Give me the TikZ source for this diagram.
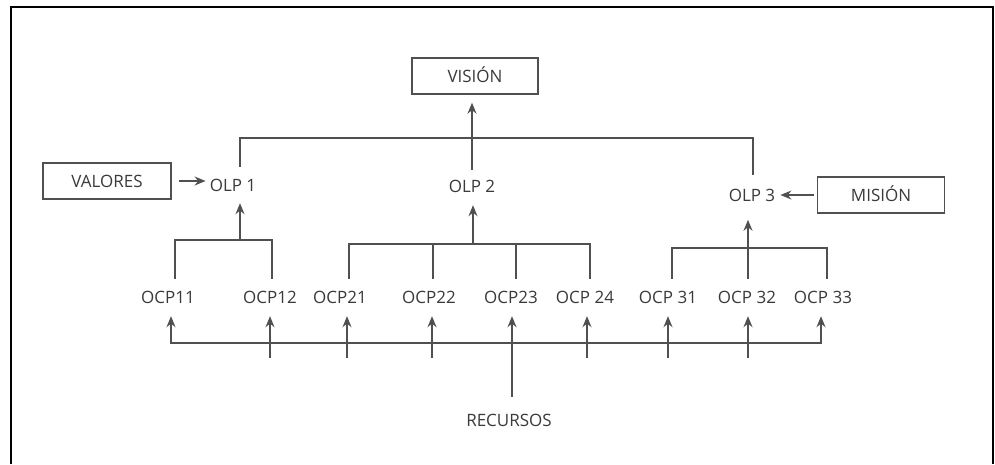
\documentclass[tikz,border=0pt]{standalone}
\usepackage{fontspec}
\setmainfont{Open Sans}
\usetikzlibrary{arrows.meta}
\definecolor{txtc}{HTML}{3A3A3A}
\definecolor{linec}{HTML}{505050}
\begin{document}
\begin{tikzpicture}[x=1pt,y=-1pt,
  lbl/.style={font=\fontsize{17}{20}\selectfont, text=txtc, inner sep=3pt, text height=12pt, text depth=0pt},
  boxnode/.style={lbl, draw=linec, line width=1.4pt, minimum height=36pt},
  con/.style={draw=linec, line width=1.5pt},
  arr/.style={con, -{Stealth[length=11pt,width=9pt]}},
]
\useasboundingbox (0,0) rectangle (995,464);
\draw[black, line width=2pt] (11,464) -- (11,7) -- (993,7) -- (993,464);

% boxes
\node[boxnode, minimum width=126pt] (vision) at (475,76) {VISIÓN};
\node[boxnode, minimum width=128pt] (valores) at (107,181) {VALORES};
\node[boxnode, minimum width=127pt] (mision) at (881,195) {MISIÓN};

% level OLP
\node[lbl] (olp1) at (233,185) {OLP 1};
\node[lbl] (olp2) at (472,186) {OLP 2};
\node[lbl] (olp3) at (752,195) {OLP 3};

% level OCP
\node[lbl] (ocp11) at (168,297) {OCP11};
\node[lbl] (ocp12) at (270,297) {OCP12};
\node[lbl] (ocp21) at (340,297) {OCP21};
\node[lbl] (ocp22) at (429,297) {OCP22};
\node[lbl] (ocp23) at (511,297) {OCP23};
\node[lbl] (ocp24) at (585,297) {OCP 24};
\node[lbl] (ocp31) at (668,297) {OCP 31};
\node[lbl] (ocp32) at (747,297) {OCP 32};
\node[lbl] (ocp33) at (823,297) {OCP 33};

\node[lbl] (recursos) at (509,420) {RECURSOS};

% coordinates for bars
\coordinate (topbar) at (473,138);
\coordinate (b1) at (240,240);
\coordinate (b2) at (473,244);
\coordinate (b3) at (748,248);
\coordinate (bus) at (509,343);

% top connections
\draw[con, shorten <=9pt, shorten >=11pt] ([xshift=7pt]olp1.north) |- (topbar) -| ([xshift=1pt]olp3.north);
\draw[arr, shorten <=7pt, shorten >=8pt] (olp2.north) -- (olp2.north |- vision.south);
\draw[arr, shorten <=7pt, shorten >=1pt] (valores.east) -- (valores.east -| olp1.west);
\draw[arr, shorten <=3pt, shorten >=2pt] (mision.west) -- (olp3.east);

% bracket 1
\draw[con, shorten <=9pt, shorten >=9pt] ([xshift=7pt]ocp11.north) |- (b1) -| ([xshift=2pt]ocp12.north);
\draw[arr, shorten >=9pt] (b1) -- (b1 |- olp1.south);

% bracket 2
\draw[con, shorten <=9pt, shorten >=9pt] ([xshift=9pt]ocp21.north) |- (b2) -| ([xshift=5pt]ocp24.north);
\draw[con, shorten <=9pt] ([xshift=4pt]ocp22.north) -- ++(0,-44);
\draw[con, shorten <=9pt] ([xshift=5pt]ocp23.north) -- ++(0,-44);
\draw[arr, shorten >=10pt] (b2) -- (b2 |- olp2.south);

% bracket 3
\draw[con, shorten <=9pt, shorten >=9pt] ([xshift=4pt]ocp31.north) |- (b3) -| ([xshift=4pt]ocp33.north);
\draw[arr, shorten <=9pt, shorten >=16pt] ([xshift=1pt]ocp32.north) -- ++(0,-84);

% resources bus
\draw[con, {Stealth[length=11pt,width=9pt]}-{Stealth[length=11pt,width=9pt]}, shorten <=10pt, shorten >=10pt]
  ([xshift=3pt]ocp11.south) |- (bus) -| ([xshift=-2pt]ocp33.south);
\draw[arr, shorten >=10pt] ([xshift=0pt]ocp12.south) ++(0,52) -- ([xshift=0pt]ocp12.south);
\draw[arr, shorten >=10pt] ([xshift=7pt]ocp21.south) ++(0,52) -- ([xshift=7pt]ocp21.south);
\draw[arr, shorten >=10pt] ([xshift=3pt]ocp22.south) ++(0,52) -- ([xshift=3pt]ocp22.south);
\draw[arr, shorten >=10pt] ([xshift=2pt]ocp24.south) ++(0,52) -- ([xshift=2pt]ocp24.south);
\draw[arr, shorten >=10pt] ([xshift=0pt]ocp31.south) ++(0,52) -- ([xshift=0pt]ocp31.south);
\draw[arr, shorten >=10pt] ([xshift=1pt]ocp32.south) ++(0,52) -- ([xshift=1pt]ocp32.south);
\draw[arr, shorten <=14pt, shorten >=10pt] ([xshift=3pt]recursos.north) -- ([xshift=1pt]ocp23.south);
\end{tikzpicture}
\end{document}
